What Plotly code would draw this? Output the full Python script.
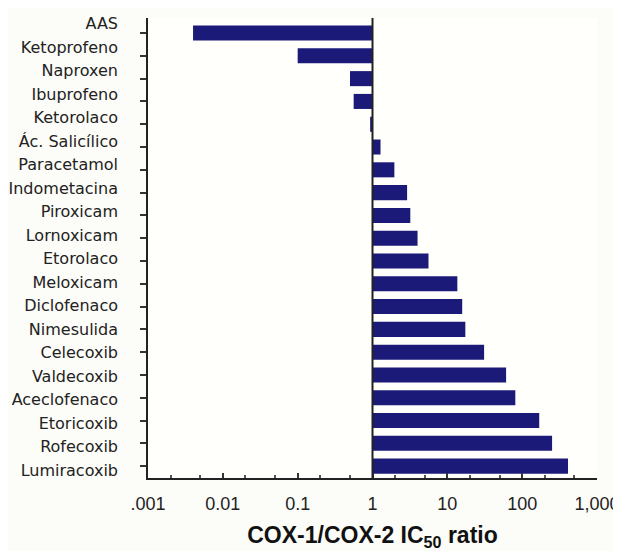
import plotly.graph_objects as go

drugs = ["AAS", "Ketoprofeno", "Naproxen", "Ibuprofeno", "Ketorolaco", "Ác. Salicílico",
         "Paracetamol", "Indometacina", "Piroxicam", "Lornoxicam", "Etorolaco", "Meloxicam",
         "Diclofenaco", "Nimesulida", "Celecoxib", "Valdecoxib", "Aceclofenaco", "Etoricoxib",
         "Rofecoxib", "Lumiracoxib"]
ratios = [0.004, 0.1, 0.5, 0.56, 0.93, 1.28, 1.96, 2.9, 3.2, 4.0, 5.6, 13.6, 15.8, 17.4,
          31, 61, 81, 169, 251, 410]
tick_vals = [0.001, 0.01, 0.1, 1, 10, 100, 1000]
tick_text = [".001", "0.01", "0.1", "1", "10", "100", "1,000"]
base_value = 1

fig = go.Figure()
fig.add_trace(go.Bar(
    y=drugs,
    x=[r - base_value for r in ratios],
    base=[base_value] * len(ratios),
    orientation="h",
    width=0.66,
    marker=dict(color="#1c1a78", line=dict(width=0)),
    hoverinfo="skip",
))
# invisible companion trace that carries the category labels on the label axis
fig.add_trace(go.Scatter(
    y=drugs, x=ratios, yaxis="y2", mode="markers",
    marker=dict(opacity=0, size=1), hoverinfo="skip", showlegend=False,
))

fig.add_shape(type="line", xref="x", yref="paper", x0=base_value, x1=base_value,
              y0=0, y1=1, line=dict(color="#222222", width=2))

fig.update_layout(
    width=613, height=543,
    margin=dict(l=140, r=24, t=10, b=73, pad=0),
    paper_bgcolor="#fcfcf8",
    plot_bgcolor="#fffffb",
    showlegend=False,
    xaxis=dict(
        type="log", range=[-3, 3],
        tickvals=tick_vals, ticktext=tick_text,
        ticks="inside", ticklen=5, tickwidth=1.5, tickcolor="#333333",
        minor=dict(ticks="inside", ticklen=3, tickcolor="#555555", showgrid=False),
        showline=True, linecolor="#222222", linewidth=2,
        showgrid=False, zeroline=False, automargin=False,
        ticklabelstandoff=8, ticklabeloverflow="allow",
        tickfont=dict(family="Liberation Sans, Arial", size=18, color="#222222"),
        title=dict(text="<b>COX-1/COX-2 IC<sub>50</sub> ratio</b>",
                   font=dict(family="Liberation Sans, Arial", size=23, color="#111111"),
                   standoff=27),
    ),
    yaxis=dict(
        type="category", categoryorder="array", categoryarray=drugs,
        range=[19.52, -0.66],
        ticks="outside", ticklen=6, tickwidth=2, tickcolor="#333333",
        showline=True, linecolor="#222222", linewidth=2,
        showgrid=False, automargin=False, showticklabels=False,
    ),
    yaxis2=dict(
        type="category", categoryorder="array", categoryarray=drugs,
        overlaying="y", side="left", anchor="x",
        range=[19.34, -0.234],
        ticks="", showline=False, showgrid=False, zeroline=False,
        automargin=False, ticklabelstandoff=29,
        tickfont=dict(family="DejaVu Sans", size=16, color="#222222"),
    ),
)

fig.write_html("out.html")
